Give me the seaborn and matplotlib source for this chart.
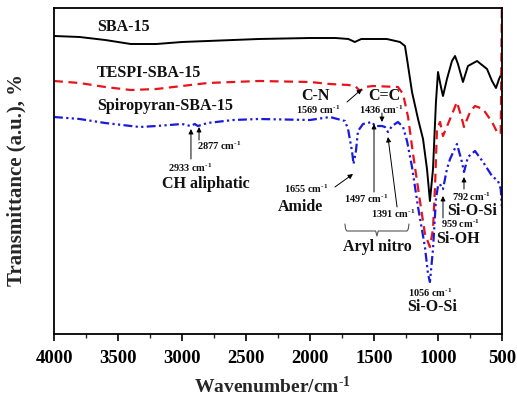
import numpy as np
import pandas as pd
import matplotlib
matplotlib.use("Agg")
import matplotlib.pyplot as plt
import seaborn as sns

# ---- data (wavenumber in cm-1, transmittance in arbitrary units) ----
sba_wn = [4000, 3800, 3600, 3400, 3200, 3000, 2800, 2600, 2400, 2200, 2000, 1800, 1700, 1650,
          1600, 1400, 1297, 1258, 1242, 1203, 1156, 1117, 1086, 1063, 1039, 1016, 1000, 977,
          961, 930, 891, 867, 844, 805, 766, 695, 617, 578, 547, 523, 505]
sba_t = [298, 297, 294, 290, 290, 292, 293, 294, 295, 295.5, 296, 296, 295, 292,
         295, 295, 292, 288, 275, 242, 215, 195, 165, 133, 165, 232, 262, 247,
         238, 255, 273, 278, 270, 252, 268, 273, 265, 253, 246, 255, 260]

tespi_wn = [4000, 3800, 3600, 3400, 3200, 3000, 2800, 2600, 2400, 2000, 1844, 1700, 1648,
            1609, 1570, 1508, 1313, 1273, 1234, 1195, 1141, 1102, 1063, 1039, 1023, 1008,
            984, 961, 906, 852, 813, 797, 750, 711, 648, 578, 539, 510, 500]
tespi_t = [253, 251, 247, 244, 245, 248, 251, 252, 253, 252, 250, 249, 248,
           243, 247, 248, 247, 240, 217, 180, 133, 100, 87, 105, 148, 205,
           212, 198, 215, 232, 215, 207, 222, 228, 225, 212, 202, 200, 345]

spiro_wn = [4000, 3800, 3600, 3400, 3330, 3200, 3000, 2933, 2900, 2877, 2800, 2600, 2400,
            2000, 1844, 1727, 1703, 1672, 1660, 1641, 1625, 1586, 1516, 1492, 1438, 1414,
            1391, 1359, 1313, 1273, 1242, 1203, 1156, 1102, 1078, 1063, 1039, 1016, 1000,
            984, 969, 961, 930, 906, 852, 813, 797, 766, 711, 648, 578, 531, 510, 500]
spiro_t = [217, 215, 211, 208, 207, 208, 210, 208, 210, 208, 211, 214, 215,
           214, 217, 213, 205, 183, 170, 183, 203, 210, 212, 208, 208, 207,
           202, 208, 212, 207, 193, 167, 127, 87, 60, 52, 85, 135, 148,
           150, 145, 145, 165, 175, 190, 172, 162, 177, 183, 172, 158, 153, 145, 125]

series_names = ["SBA-15", "TESPI-SBA-15", "Spiropyran-SBA-15"]
tick_values = [4000, 3500, 3000, 2500, 2000, 1500, 1000, 500]

# ---- style ----
sns.set_theme(style="white")
plt.rcParams["font.family"] = ["Liberation Serif", "DejaVu Serif"]
plt.rcParams["font.weight"] = "bold"
plt.rcParams["mathtext.fontset"] = "custom"
plt.rcParams["mathtext.rm"] = "Liberation Serif:bold"
plt.rcParams["mathtext.it"] = "Liberation Serif:bold"
plt.rcParams["mathtext.bf"] = "Liberation Serif:bold"

fig = plt.figure(figsize=(5.17, 4.06), dpi=100)
ax = fig.add_axes([54 / 517, 1 - 335 / 406, 448 / 517, 326 / 406])

df_sba = pd.DataFrame({"wn": sba_wn, "t": sba_t})
df_tes = pd.DataFrame({"wn": tespi_wn, "t": tespi_t})
df_spi = pd.DataFrame({"wn": spiro_wn, "t": spiro_t})

sns.lineplot(data=df_sba, x="wn", y="t", ax=ax, color="black", lw=1.4, sort=False)
sns.lineplot(data=df_tes, x="wn", y="t", ax=ax, color="#e8141c", lw=1.6, sort=False)
ax.lines[-1].set_dashes([4, 2.5])
sns.lineplot(data=df_spi, x="wn", y="t", ax=ax, color="#1a1adf", lw=1.6, sort=False)
ax.lines[-1].set_dashes([4, 1.5, 1, 1.5, 1, 1.5])

ax.set_xlim(4000, 500)
ax.set_ylim(0, 326)
ax.set_xticks(tick_values)
ax.set_xticklabels([str(v) for v in tick_values], fontsize=13.5, fontweight="bold")
ax.set_xticks(np.arange(3750, 500, -500), minor=True)
ax.set_yticks([])
ax.tick_params(axis="x", which="major", direction="out", length=5, width=1.2,
               bottom=True, top=False, pad=6, colors="black")
ax.tick_params(axis="x", which="minor", direction="out", length=3, width=1.0,
               bottom=True, top=False)
for s in ax.spines.values():
    s.set_color("black")
    s.set_linewidth(1.3)

cm_sup = r"$^{\text{-1}}$"
ax.set_xlabel("Wavenumber/cm" + cm_sup, fontsize=14, fontweight="bold")
ax.xaxis.set_label_coords(0.487, -0.125)
ax.set_ylabel("Transmittance (a.u.), %", fontsize=15, fontweight="bold")
ax.yaxis.set_label_coords(-0.062, 0.475)

# ---- annotations ----
big = dict(fontsize=11.5, fontweight="bold", color="#111111")
small = dict(fontsize=7.5, fontweight="bold", color="#111111")
cm = " cm" + cm_sup

ax.text(3664, 308, series_names[0], ha="left", va="center", **big)
ax.text(3664, 262, series_names[1], ha="left", va="center", **big)
ax.text(3664, 229, series_names[2], ha="left", va="center", **big)

ap = dict(arrowstyle="-|>", color="black", lw=0.7, mutation_scale=7, shrinkA=0, shrinkB=0)

ax.text(1961, 239, "C-N", ha="center", va="center", **big)
ax.text(1937, 225, "1569" + cm, ha="center", va="center", **small)
ax.annotate("", xy=(1594, 245), xytext=(1711, 232), arrowprops=ap)

ax.text(1422, 239, "C=C", ha="center", va="center", **big)
ax.text(1445, 225, "1436" + cm, ha="center", va="center", **small)
ax.annotate("", xy=(1438, 212), xytext=(1438, 221), arrowprops=ap)

ax.text(2938, 167, "2933" + cm, ha="center", va="center", **small)
ax.annotate("", xy=(2930, 205), xytext=(2930, 175), arrowprops=ap)
ax.text(2711, 189, "2877" + cm, ha="center", va="center", **small)
ax.annotate("", xy=(2867, 207), xytext=(2867, 194), arrowprops=ap)
ax.text(2813, 151, "CH aliphatic", ha="center", va="center", **big)

ax.text(2031, 146, "1655" + cm, ha="center", va="center", **small)
ax.annotate("", xy=(1664, 160), xytext=(1805, 147), arrowprops=ap)
ax.text(2078, 128, "Amide", ha="center", va="center", **big)

ax.text(1563, 136, "1497" + cm, ha="center", va="center", **small)
ax.annotate("", xy=(1500, 210), xytext=(1500, 142), arrowprops=ap)
ax.text(1352, 121, "1391" + cm, ha="center", va="center", **small)
ax.annotate("", xy=(1391, 197), xytext=(1320, 127), arrowprops=ap)

# brace under aryl nitro labels
bx = [1727, 1722, 1712, 1487, 1477, 1467, 1242, 1232, 1227]
by = [110, 105, 103, 103, 98, 103, 103, 105, 110]
ax.plot(bx, by, color="#555555", lw=0.8)
ax.text(1477, 88, "Aryl nitro", ha="center", va="center", **big)

ax.text(742, 138, "792" + cm, ha="center", va="center", **small)
ax.annotate("", xy=(797, 157), xytext=(797, 145), arrowprops=ap)
ax.text(734, 124, "Si-O-Si", ha="center", va="center", **big)

ax.text(828, 111, "959" + cm, ha="center", va="center", **small)
ax.annotate("", xy=(961, 138), xytext=(961, 116), arrowprops=ap)
ax.text(844, 96, "Si-OH", ha="center", va="center", **big)

ax.text(1063, 42, "1056" + cm, ha="center", va="center", **small)
ax.text(1047, 28, "Si-O-Si", ha="center", va="center", **big)

fig.savefig("out.png", dpi=100)
